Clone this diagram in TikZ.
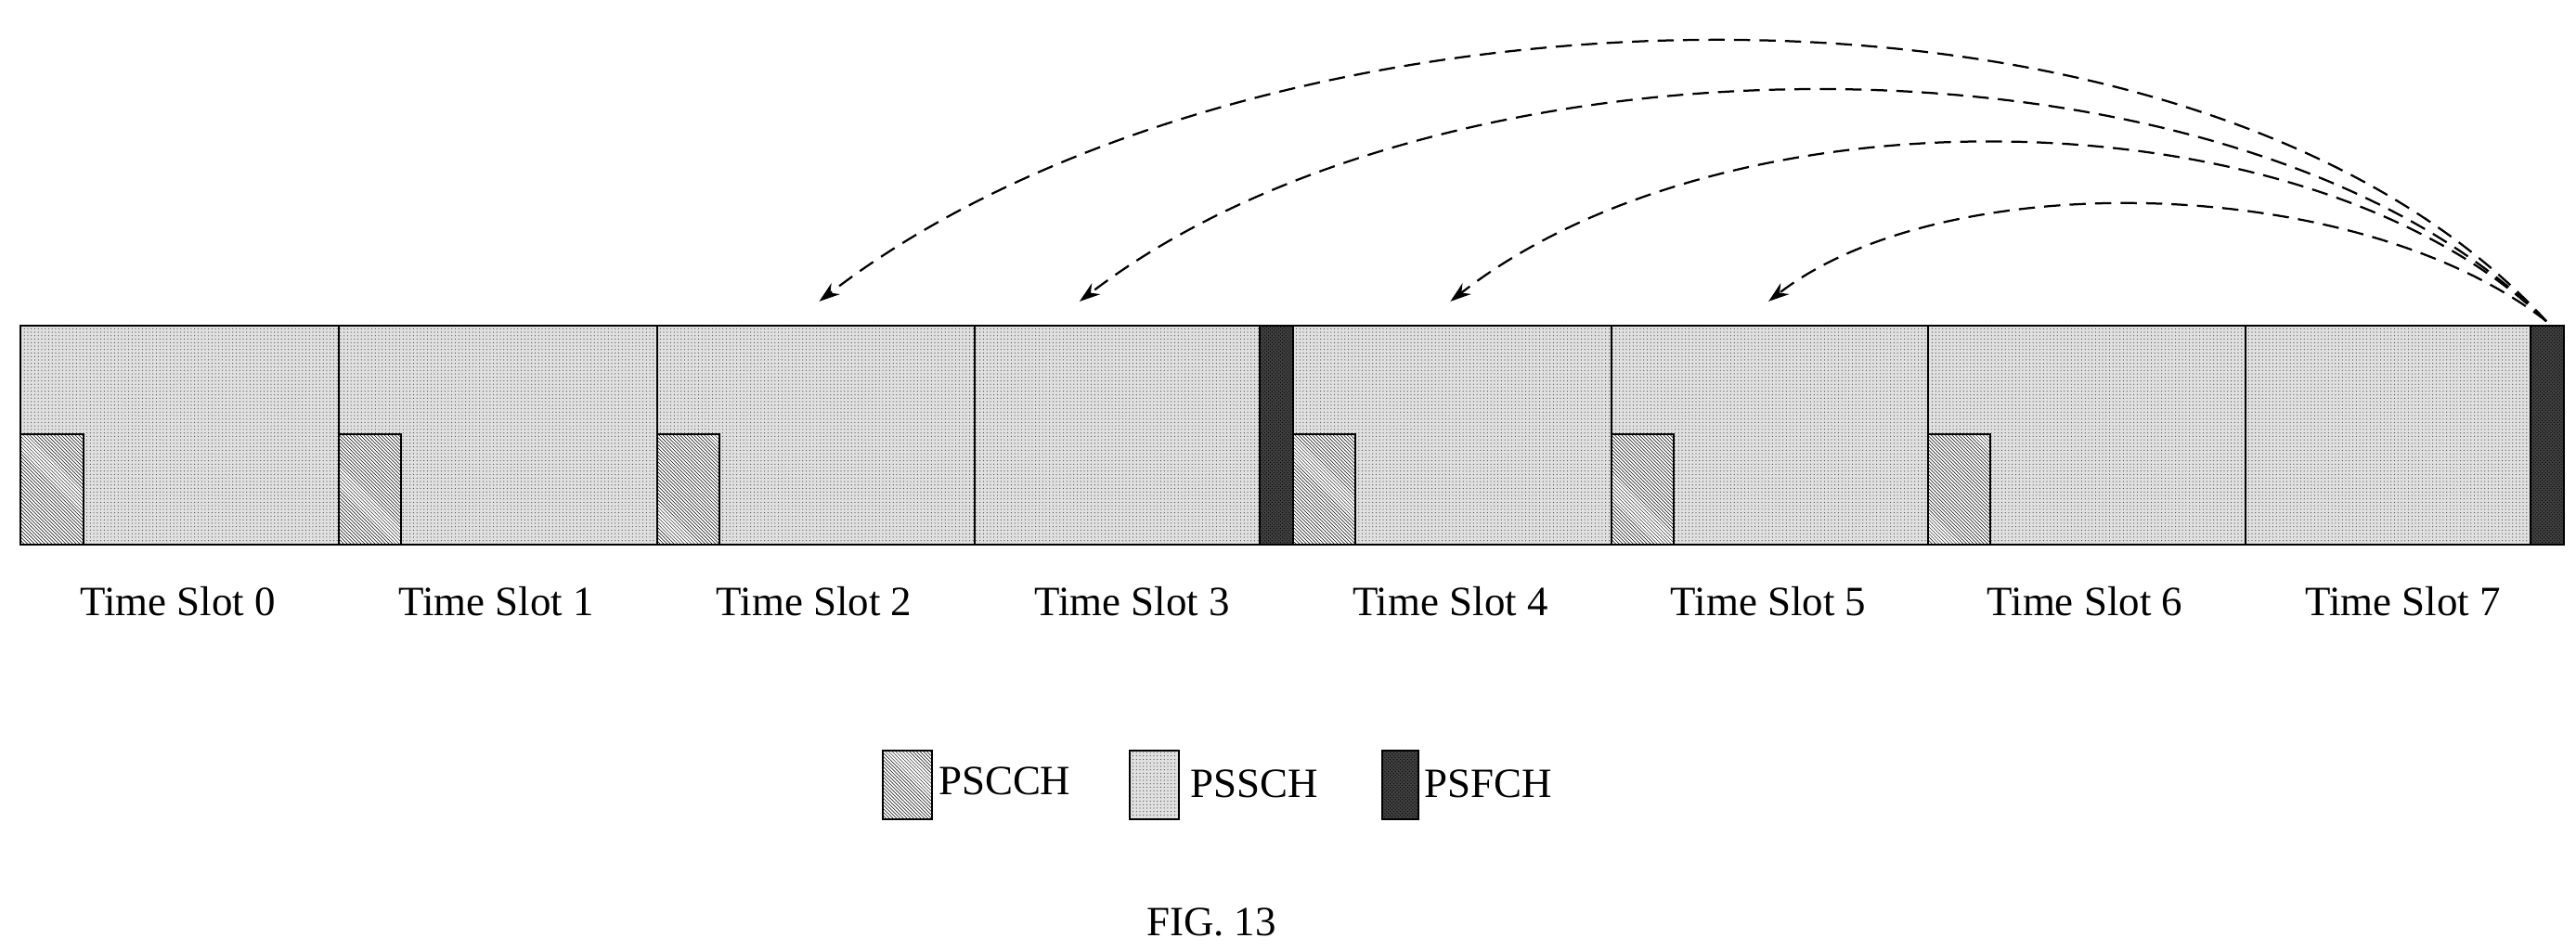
\documentclass[tikz,border=0pt]{standalone}
\usepackage{fontspec}
\setmainfont{Liberation Serif}
\usetikzlibrary{patterns,arrows.meta}
\begin{document}
\begin{tikzpicture}[x=0.05cm,y=-0.05cm,
  pssch/.style={draw=black,line width=1.6pt,preaction={fill=black!12},pattern=dots,pattern color=black!70},
  pscch/.style={draw=black,line width=1.6pt,preaction={fill=white},pattern=north west lines},
  psfch/.style={draw=black,line width=1.6pt,preaction={fill=black!75},pattern=crosshatch dots,pattern color=black},
  lab/.style={font=\fontsize{36}{40}\selectfont},
  arr/.style={dashed,line width=1.8pt,dash pattern=on 14pt off 8pt,-{Stealth[length=18pt,width=12pt]}}]
\useasboundingbox (0,0) rectangle (1563,577);
% slots
\foreach \i/\x in {0/12,1/205,2/398,3/591,4/784,5/977,6/1169,7/1362}{
  \node[pssch,minimum width=193*0.05cm,minimum height=133*0.05cm,inner sep=0,anchor=north west] (s\i) at (\x,197) {};
  \node[lab] (t\i) at (\x+96,365) {Time Slot \i};
}
\node[psfch,minimum width=20*0.05cm,minimum height=133*0.05cm,inner sep=0,anchor=north west] (f1) at (764,197) {};
\node[psfch,minimum width=20*0.05cm,minimum height=133*0.05cm,inner sep=0,anchor=north west] (f2) at (1535,197) {};
\foreach \i/\x in {0/12,1/205,2/398,4/784,5/977,6/1169}{
  \node[pscch,minimum width=38*0.05cm,minimum height=67*0.05cm,inner sep=0,anchor=north west] (c\i) at (\x,263) {};
}
% arrows
\coordinate (src) at (1545,195);
\coordinate (d2) at (497,183);
\coordinate (d3) at (655,183);
\coordinate (d4) at (880,183);
\coordinate (d5) at (1073,183);
\draw[arr] (src) .. controls (1330,-40) and (760,-20) .. (d2);
\draw[arr] (src) .. controls (1360,10) and (880,10) .. (d3);
\draw[arr] (src) .. controls (1400,55) and (1050,50) .. (d4);
\draw[arr] (src) .. controls (1430,105) and (1180,100) .. (d5);
% legend
\node[pscch,minimum width=30*0.05cm,minimum height=42*0.05cm,inner sep=0,anchor=north west] (l1) at (535,455) {};
\node[lab,anchor=west] (lt1) at (567,474) {PSCCH};
\node[pssch,minimum width=30*0.05cm,minimum height=42*0.05cm,inner sep=0,anchor=north west] (l2) at (685,455) {};
\node[lab,anchor=west] (lt2) at (720,476) {PSSCH};
\node[psfch,minimum width=22*0.05cm,minimum height=42*0.05cm,inner sep=0,anchor=north west] (l3) at (838,455) {};
\node[lab,anchor=west] (lt3) at (862,476) {PSFCH};
\node[lab] (fig) at (735,560) {FIG. 13};
\end{tikzpicture}
\end{document}
